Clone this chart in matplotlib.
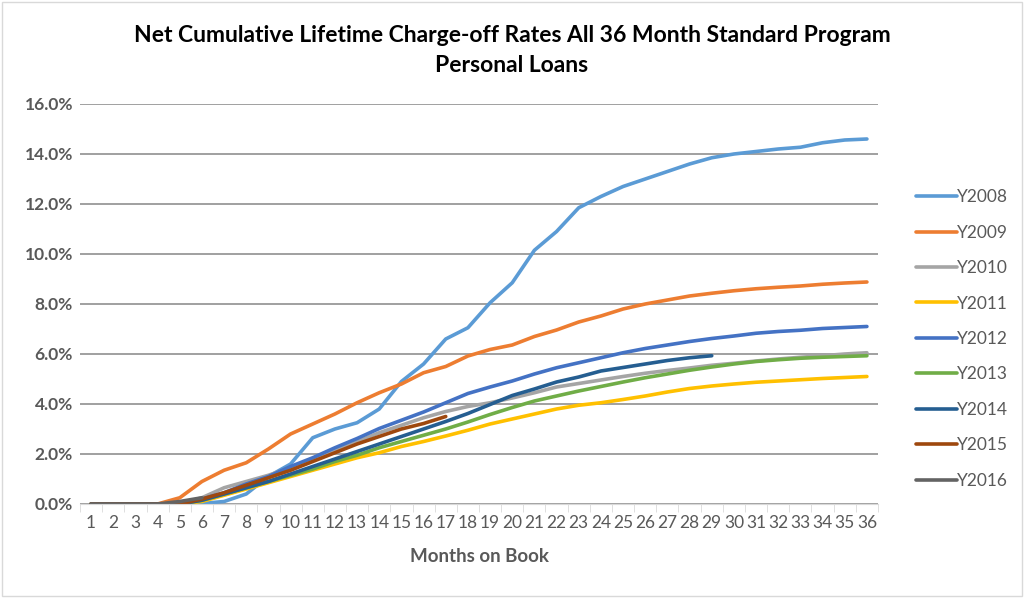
import matplotlib
matplotlib.use('Agg')
import matplotlib.pyplot as plt
from matplotlib.patches import Rectangle
from matplotlib.ticker import FuncFormatter

plt.rcParams['font.family'] = ['Lato', 'DejaVu Sans']

# Months on book
months = list(range(1, 37))

# Net cumulative charge-off rates (%) by vintage
y2008 = [0, 0, 0, 0, 0, 0.02, 0.1, 0.4, 1.1, 1.6, 2.65, 3.0, 3.25, 3.8, 4.9, 5.6, 6.6, 7.05,
         8.05, 8.85, 10.15, 10.9, 11.85, 12.3, 12.7, 13.0, 13.3, 13.6, 13.85, 14.0, 14.1, 14.2,
         14.27, 14.45, 14.56, 14.6]
y2009 = [0, 0, 0, 0, 0.25, 0.9, 1.35, 1.65, 2.2, 2.8, 3.2, 3.6, 4.05, 4.45, 4.8, 5.25, 5.5, 5.92,
         6.18, 6.36, 6.7, 6.96, 7.28, 7.52, 7.8, 8.0, 8.16, 8.32, 8.43, 8.53, 8.61, 8.67, 8.72,
         8.79, 8.84, 8.88]
y2010 = [0, 0, 0, 0, 0, 0.25, 0.65, 0.9, 1.15, 1.45, 1.75, 2.15, 2.5, 2.85, 3.15, 3.45, 3.7, 3.9,
         4.05, 4.24, 4.45, 4.68, 4.82, 4.96, 5.1, 5.23, 5.34, 5.44, 5.55, 5.63, 5.72, 5.8, 5.87,
         5.93, 6.0, 6.05]
y2011 = [0, 0, 0, 0, 0, 0.1, 0.35, 0.6, 0.85, 1.1, 1.35, 1.6, 1.85, 2.05, 2.3, 2.5, 2.72, 2.95,
         3.2, 3.4, 3.6, 3.8, 3.95, 4.05, 4.18, 4.32, 4.48, 4.62, 4.72, 4.8, 4.87, 4.92, 4.97,
         5.02, 5.06, 5.1]
y2012 = [0, 0, 0, 0, 0, 0.2, 0.45, 0.8, 1.1, 1.5, 1.85, 2.25, 2.62, 3.02, 3.35, 3.68, 4.05, 4.42,
         4.68, 4.92, 5.2, 5.45, 5.65, 5.85, 6.05, 6.22, 6.36, 6.5, 6.62, 6.72, 6.83, 6.9, 6.95,
         7.02, 7.06, 7.1]
y2013 = [0, 0, 0, 0, 0, 0.15, 0.4, 0.65, 0.9, 1.15, 1.4, 1.7, 1.95, 2.25, 2.5, 2.75, 3.0, 3.28,
         3.58, 3.86, 4.12, 4.32, 4.52, 4.7, 4.88, 5.05, 5.2, 5.35, 5.48, 5.6, 5.7, 5.77, 5.83,
         5.87, 5.9, 5.93]
y2014 = [0, 0, 0, 0, 0, 0.15, 0.4, 0.65, 0.9, 1.2, 1.5, 1.8, 2.1, 2.4, 2.7, 3.0, 3.3, 3.62,
         3.98, 4.34, 4.6, 4.88, 5.08, 5.32, 5.46, 5.6, 5.74, 5.85, 5.93]
y2015 = [0, 0, 0, 0, 0, 0.2, 0.45, 0.75, 1.05, 1.35, 1.7, 2.05, 2.4, 2.7, 3.0, 3.22, 3.5]
y2016 = [0, 0, 0, 0, 0.1, 0.25]

series = [('Y2008', y2008, '#5B9BD5'),
          ('Y2009', y2009, '#ED7D31'),
          ('Y2010', y2010, '#A5A5A5'),
          ('Y2011', y2011, '#FFC000'),
          ('Y2012', y2012, '#4472C4'),
          ('Y2013', y2013, '#70AD47'),
          ('Y2014', y2014, '#255E91'),
          ('Y2015', y2015, '#9E480E'),
          ('Y2016', y2016, '#636363')]

fig = plt.figure(figsize=(10.24, 5.98), dpi=100)
ax = fig.add_axes([80 / 1024, 1 - 504 / 598, 798 / 1024, 400 / 598])

for name, vals, col in series:
    ax.plot(months[:len(vals)], vals, color=col, lw=2.6, label=name,
            solid_capstyle='round', solid_joinstyle='round')

ax.set_xlim(0.5, 36.5)
ax.set_ylim(0, 16)
ax.set_yticks(range(0, 17, 2))
ax.yaxis.set_major_formatter(FuncFormatter(lambda v, p: '%.1f%%' % v))
ax.set_xticks(months)
ax.set_xticks([m + 0.5 for m in range(0, 37)], minor=True)
ax.grid(axis='y', color='#868686', lw=1.1)
ax.set_axisbelow(True)

for s in ['top', 'right', 'left']:
    ax.spines[s].set_visible(False)
ax.spines['bottom'].set_color('#D9D9D9')

ax.tick_params(axis='y', length=0, pad=5, labelsize=12.5, labelcolor='#595959')
for lab in ax.get_yticklabels():
    lab.set_fontweight('bold')
ax.tick_params(axis='x', which='major', length=0, pad=8, labelsize=12.5, labelcolor='#595959')
ax.tick_params(axis='x', which='minor', length=6, color='#D9D9D9')

ax.set_xlabel('Months on Book', fontsize=13.5, fontweight='bold', color='#595959', labelpad=12)

fig.text(0.5, 1 - 35 / 598, 'Net Cumulative Lifetime Charge-off Rates All 36 Month Standard Program',
         ha='center', va='center', fontsize=16.5, fontweight='bold', color='black')
fig.text(0.5, 1 - 65 / 598, 'Personal Loans',
         ha='center', va='center', fontsize=16.5, fontweight='bold', color='black')

leg = fig.legend(loc='center left', bbox_to_anchor=(900 / 1024, 1 - 339 / 598), frameon=False,
                 fontsize=12.5, labelspacing=1.12, handlelength=2.4, handletextpad=0.0)
for t in leg.get_texts():
    t.set_color('#595959')

fig.patches.append(Rectangle((0.002, 0.003), 0.996, 0.994, transform=fig.transFigure,
                             fill=False, edgecolor='#D9D9D9', lw=1))

fig.savefig('out.png', dpi=100)
